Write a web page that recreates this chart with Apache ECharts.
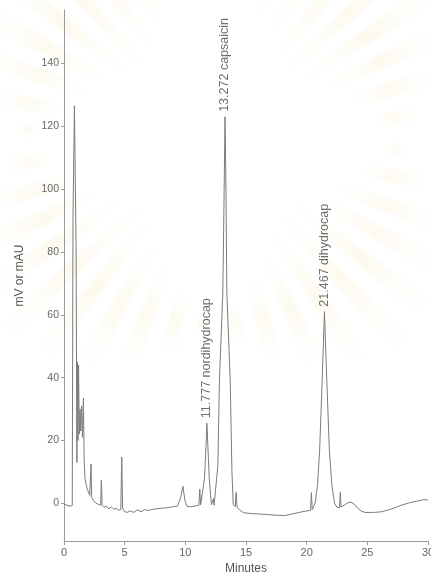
<!DOCTYPE html>
<html>
<head>
<meta charset="utf-8">
<script src="https://cdn.jsdelivr.net/npm/echarts@6/dist/echarts.min.js"></script>
<style>
  html, body { margin: 0; padding: 0; background: #ffffff; }
  #chart { width: 431px; height: 577px; }
</style>
</head>
<body>
<div id="chart"></div>
<script>
// Retention time (min) of each recorded point of the detector trace
const traceTime = [
  0.00, 0.25, 0.50, 0.68, 0.74, 0.86, 1.00, 1.06, 1.10, 1.15,
  1.20, 1.26, 1.32, 1.38, 1.45, 1.52, 1.60, 1.66, 1.73, 1.82,
  1.92, 2.02, 2.12, 2.18, 2.23, 2.28, 2.45, 2.65, 2.85, 3.02,
  3.08, 3.14, 3.30, 3.50, 3.70, 3.90, 4.10, 4.30, 4.50, 4.68,
  4.76, 4.83, 4.98, 5.20, 5.45, 5.75, 6.05, 6.35, 6.65, 6.95,
  7.35, 7.75, 8.15, 8.55, 8.95, 9.35, 9.60, 9.80, 9.97, 10.15,
  10.50, 10.90, 11.12, 11.19, 11.26, 11.40, 11.58, 11.70, 11.777, 11.86,
  11.97, 12.15, 12.28, 12.32, 12.37, 12.50, 12.68, 12.81, 13.09, 13.20,
  13.272, 13.35, 13.42, 13.70, 13.84, 13.95, 14.12, 14.19, 14.26, 14.50,
  14.80, 15.50, 16.50, 17.50, 18.20, 18.80, 19.50, 20.32, 20.39, 20.46,
  20.70, 20.90, 21.07, 21.27, 21.467, 21.67, 21.87, 22.07, 22.30, 22.50,
  22.71, 22.77, 22.83, 23.10, 23.40, 23.65, 23.90, 24.20, 24.50, 24.80,
  25.50, 26.20, 27.00, 27.80, 28.50, 29.20, 29.70, 30.00
];
// Detector signal (mV or mAU) at each of those times
const traceSignal = [
  -0.3, -0.6, -0.9, -0.7, 90, 126.5, 80, 13, 45, 20,
  44, 22, 30, 23, 31, 21, 33.5, 14, 8, 6,
  4.5, 3.5, 2.5, 2.2, 12.5, 1.8, 0.8, 0, -0.4, -0.6,
  7.3, -0.6, -1.3, -0.9, -1.8, -1.1, -1.9, -1.6, -2.2, -2.0,
  14.7, -1.6, -2.6, -2.9, -2.4, -2.9, -2.1, -2.7, -2.0, -2.3,
  -1.9, -1.7, -1.5, -1.4, -1.1, -0.9, 1.5, 5.4, 0.8, -1.0,
  -1.1, -0.8, -0.6, 4.5, -0.5, -0.3, 8, 18, 25.5, 18,
  8, -0.4, -0.5, 1.5, -0.6, -0.5, 12, 39, 67, 100,
  123, 100, 67, 39, 10, -0.5, -1.0, 3.5, -1.2, -2.2,
  -3.0, -3.3, -3.5, -3.8, -3.9, -3.4, -2.8, -2.2, 3.4, -2.0,
  0, 6, 17, 38, 61, 38, 17, 6, 0, -1.3,
  -1.4, 3.5, -1.2, -0.6, 0.2, 0.4, -0.2, -1.5, -2.5, -2.9,
  -2.9, -2.7, -1.8, -0.6, 0.2, 0.8, 1.2, 1.0
];

// Identified peaks
const peakTimes = [11.777, 13.272, 21.467];
const peakNames = ['nordihydrocap', 'capsaicin', 'dihydrocap'];
const peakHeights = [25.5, 123, 61];

// Axis ticks
const xTicks = [0, 5, 10, 15, 20, 25, 30];
const yTicks = [0, 20, 40, 60, 80, 100, 120, 140];

const traceData = traceTime.map((t, i) => [t, traceSignal[i]]);
const peakData = peakTimes.map((t, i) => ({
  value: [t, peakHeights[i]],
  name: t.toFixed(3) + ' ' + peakNames[i]
}));

const FONT = '"Liberation Sans", Arial, Helvetica, sans-serif';
const chart = echarts.init(document.getElementById('chart'), null, { renderer: 'canvas' });

// Faint sunburst emblem in the background
const rays = [];
const cx = 212, cy = 140;
for (let k = 0; k < 40; k++) {
  const a0 = (k / 40) * Math.PI * 2;
  rays.push({
    type: 'sector',
    silent: true,
    z: -10,
    shape: { cx: cx, cy: cy, r0: 46, r: 320, startAngle: a0, endAngle: a0 + Math.PI * 2 / 40 * 0.5 },
    style: {
      fill: new echarts.graphic.RadialGradient(0.5, 0.5, 0.5, [
        { offset: 0, color: 'rgba(248, 238, 200, 0.30)' },
        { offset: 0.4, color: 'rgba(248, 240, 210, 0.18)' },
        { offset: 1, color: 'rgba(250, 245, 230, 0)' }
      ])
    }
  });
}

chart.setOption({
  backgroundColor: '#ffffff',
  animation: false,
  graphic: rays,
  grid: { left: 64, right: 3, top: 10, bottom: 36, containLabel: false, outerBoundsMode: 'none' },
  xAxis: {
    type: 'value',
    min: 0,
    max: 30,
    interval: 5,
    name: 'Minutes',
    nameLocation: 'middle',
    nameGap: 20,
    nameTextStyle: { fontFamily: FONT, fontSize: 12, color: '#555' },
    axisLine: { show: true, onZero: false, lineStyle: { color: '#9a9a9a', width: 1 } },
    axisTick: { show: true, length: 4, lineStyle: { color: '#9a9a9a' } },
    axisLabel: { fontFamily: FONT, fontSize: 11, color: '#666', margin: 6,
      customValues: xTicks },
    splitLine: { show: false }
  },
  yAxis: {
    type: 'value',
    min: -12,
    max: 157,
    name: 'mV or mAU',
    nameLocation: 'middle',
    nameGap: 38,
    nameTextStyle: { fontFamily: FONT, fontSize: 12, color: '#555' },
    axisLine: { show: true, lineStyle: { color: '#9a9a9a', width: 1 } },
    axisTick: { show: true, length: 3, lineStyle: { color: '#9a9a9a' }, customValues: yTicks },
    axisLabel: { fontFamily: FONT, fontSize: 10.5, color: '#666', margin: 5, customValues: yTicks },
    splitLine: { show: false }
  },
  series: [
    {
      type: 'line',
      data: traceData,
      showSymbol: false,
      smooth: false,
      lineStyle: { color: '#7b7b7b', width: 1 },
      z: 3
    },
    {
      type: 'scatter',
      data: peakData,
      symbolSize: 0,
      silent: true,
      z: 4,
      label: {
        show: true,
        position: 'top',
        distance: 5,
        rotate: 90,
        align: 'left',
        verticalAlign: 'middle',
        fontFamily: FONT,
        fontSize: 12.5,
        color: '#4a4a4a',
        formatter: p => p.name
      }
    }
  ]
});
</script>
</body>
</html>
